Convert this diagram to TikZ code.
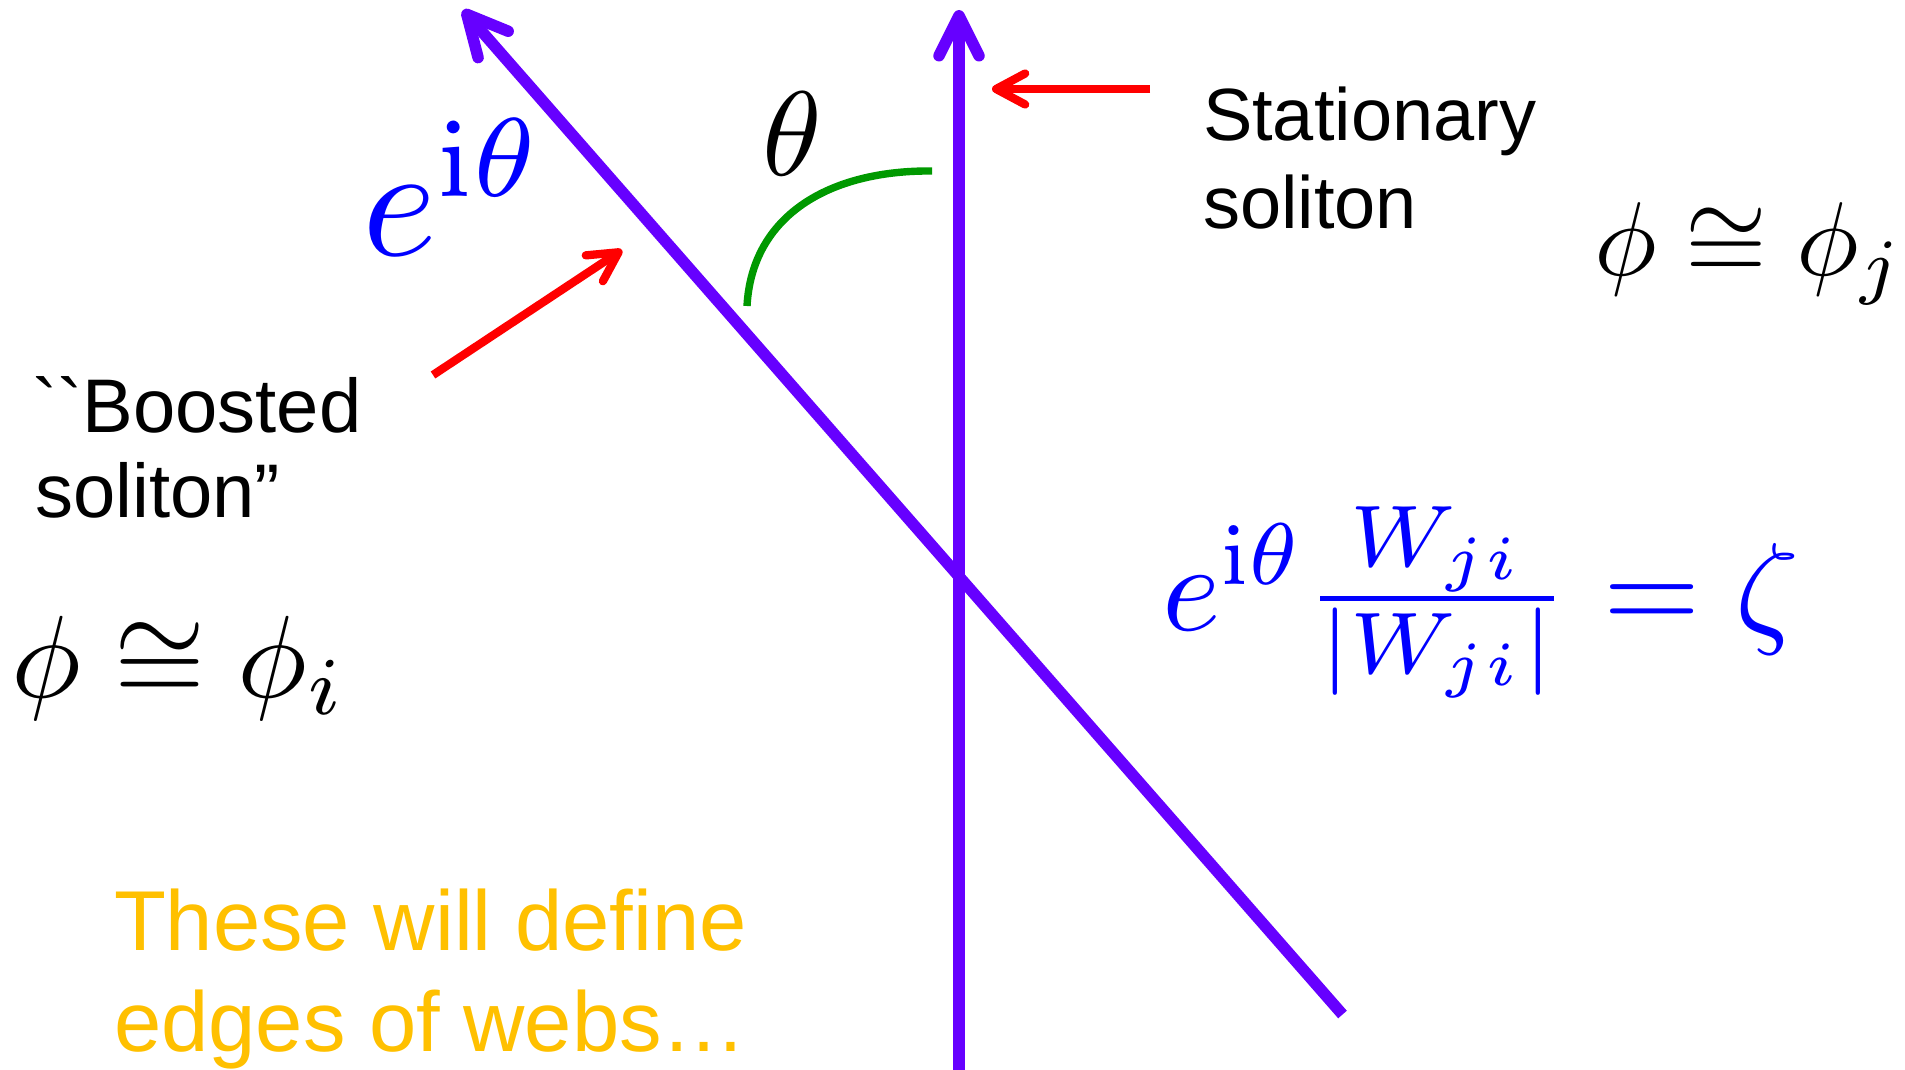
\documentclass[tikz,border=0pt]{standalone}
\usepackage[no-math]{fontspec}
\setmainfont{Liberation Sans}
\usepackage{graphicx}
\usetikzlibrary{arrows.meta}
\definecolor{solviolet}{RGB}{102,0,255}
\definecolor{arrowred}{RGB}{255,0,0}
\definecolor{arcgreen}{RGB}{0,153,0}
\definecolor{mathblue}{RGB}{0,0,255}
\definecolor{goldtxt}{RGB}{255,192,0}
\begin{document}
\begin{tikzpicture}[x=1pt,y=-1pt,
  lbl/.style={inner sep=0pt, outer sep=0pt, anchor=base west},
  blacktext/.style={lbl, font=\fontsize{74}{88}\selectfont, text=black},
  goldtext/.style={lbl, font=\fontsize{85}{102}\selectfont, text=goldtxt},
  solline/.style={draw=solviolet, line width=11.5pt},
  solhead/.style={-{Straight Barb[length=40pt,width=40pt,round]}},
  pointer/.style={draw=arrowred, line width=8.3pt, -{Straight Barb[length=29pt,width=31pt,round]}},
  anglearc/.style={draw=arcgreen, line width=7.4pt},
]
\useasboundingbox (0,0) rectangle (1905,1070);
% solitons
\coordinate (vbot) at (959,1070);
\coordinate (vtop) at (959,10);
\coordinate (dbot) at (1342.5,1014.5);
\coordinate (dtop) at (463,10);
\draw[solline, solhead] (vbot) -- (vtop);
\draw[solline, solhead] (dbot) -- (dtop);
% red pointers
\coordinate (s0) at (1150,89);
\coordinate (s1) at (992,89);
\draw[pointer] (s0) -- (s1);
\coordinate (b0) at (433,375);
\coordinate (b1) at (622,250);
\draw[pointer] (b0) -- (b1);
% angle arc
\coordinate (g0) at (747,306);
\coordinate (g1) at (932,171);
\draw[anglearc] (g0) .. controls (752,215) and (830,170) .. (g1);
% texts
\node[blacktext] (st1) at (1203,140) {Stationary};
\node[blacktext] (st2) at (1203,228) {soliton};
\node[blacktext, font=\fontsize{76}{88}\selectfont] (bo1) at (32,432) {\textasciigrave\textasciigrave Boosted};
\node[blacktext, font=\fontsize{76}{88}\selectfont] (bo2) at (35,517) {soliton''};
\node[goldtext] (gd1) at (114,950) {These will define};
\node[goldtext] (gd2) at (114,1051) {edges of webs…};
% math
\node[lbl] (th) at (762,175) {\scalebox{12}{$\theta$}};
\node[lbl, text=mathblue] (eith) at (362,255) {\scalebox{16}{$e^{\mathrm{i}\theta}$}};
\node[lbl] (phii) at (12,697) {\scalebox{11.7}{$\phi\cong\phi_i$}};
\node[lbl] (phij) at (1594,275) {\scalebox{10.5}{$\phi\cong\phi_j$}};
\node[lbl, text=mathblue] (zeta) at (1162,630) {\scalebox{12.5}{$e^{\mathrm{i}\theta}\frac{W_{ji}}{|W_{ji}|}=\zeta$}};
\end{tikzpicture}
\end{document}
